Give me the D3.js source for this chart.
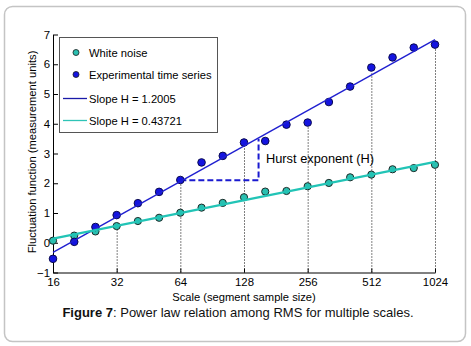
<!DOCTYPE html>
<html>
<head>
<meta charset="utf-8">
<script src="https://cdn.jsdelivr.net/npm/d3@7"></script>
<style>
  html, body { margin: 0; padding: 0; background: #fff; }
  svg { display: block; font-family: "Liberation Sans", Arial, sans-serif; }
  .axis path, .axis line { stroke: #000; stroke-width: 1; }
  .axis text { font-size: 11.4px; fill: #000; }
</style>
</head>
<body>
<svg id="chart" width="471" height="346"></svg>
<script>
// segment sample sizes (log2 spaced)
const scales = [16, 20.16, 25.4, 32, 40.32, 50.8, 64, 80.63, 101.6, 128, 161.3, 203.2, 256, 322.5, 406.4, 512, 645.1, 812.7, 1024];
const whiteNoise = [0.07, 0.24, 0.38, 0.56, 0.73, 0.84, 1.01, 1.18, 1.34, 1.53, 1.72, 1.74, 1.90, 2.01, 2.20, 2.29, 2.47, 2.51, 2.62];
const experimental = [-0.54, 0.03, 0.53, 0.93, 1.33, 1.71, 2.11, 2.70, 2.92, 3.37, 3.42, 3.97, 4.04, 4.73, 5.25, 5.89, 6.23, 6.56, 6.66];

// fitted lines (end points)
const fitExperimental = [[16, -0.32], [1024, 6.83]];
const fitWhiteNoise = [[16, 0.14], [1024, 2.72]];

// dotted guides at the octave ticks
const guideTops = [[32, 0.57], [64, 2.11], [128, 3.37], [256, 4.04], [512, 5.7], [1024, 6.66]];
// Hurst exponent triangle
const hurstPath = [[64, 2.1], [150, 2.1], [150, 3.5]];

const xTicks = [16, 32, 64, 128, 256, 512, 1024];
const yTicks = [-1, 0, 1, 2, 3, 4, 5, 6, 7];

const legendItems = [
  { label: "White noise", type: "dot", color: "#2abfb0" },
  { label: "Experimental time series", type: "dot", color: "#1414e0" },
  { label: "Slope H = 1.2005", type: "line", color: "#1a1aa8" },
  { label: "Slope H = 0.43721", type: "line", color: "#2ec4b6" }
];

const svg = d3.select("#chart");

// outer rounded frame
svg.append("rect")
  .attr("x", 4.5).attr("y", 6.5)
  .attr("width", 461).attr("height", 335)
  .attr("rx", 8).attr("ry", 8)
  .attr("fill", "#fff")
  .attr("stroke", "#c4c4c4")
  .attr("stroke-width", 1.5);

const x = d3.scaleLog().base(2).domain([16, 1024]).range([53, 435]);
const y = d3.scaleLinear().domain([-1, 7]).range([272.5, 34.5]);

// dotted guides
svg.selectAll("line.guide")
  .data(guideTops)
  .enter()
  .append("line")
  .attr("class", "guide")
  .attr("x1", d => x(d[0]) + 0.5)
  .attr("x2", d => x(d[0]) + 0.5)
  .attr("y1", y(-1))
  .attr("y2", d => y(d[1]))
  .attr("stroke", "#000")
  .attr("stroke-width", 1)
  .attr("stroke-dasharray", "1,2");

// axes
svg.append("g")
  .attr("class", "axis")
  .attr("transform", `translate(0,${y(-1)})`)
  .call(d3.axisBottom(x).tickValues(xTicks).tickFormat(d3.format("d"))
    .tickSizeInner(-4).tickSizeOuter(0).tickPadding(5));

svg.append("g")
  .attr("class", "axis")
  .attr("transform", `translate(${x(16)},0)`)
  .call(d3.axisLeft(y).tickValues(yTicks).tickFormat(d3.format("d"))
    .tickSizeInner(-5).tickSizeOuter(0).tickPadding(3));

// axis titles
svg.append("text")
  .attr("x", 244)
  .attr("y", 300.5)
  .attr("text-anchor", "middle")
  .style("font-size", "11.2px")
  .text("Scale (segment sample size)");

svg.append("text")
  .attr("transform", "translate(36,152) rotate(-90)")
  .attr("text-anchor", "middle")
  .style("font-size", "11.2px")
  .text("Fluctuation function (measurement units)");

// Hurst exponent triangle
svg.append("path")
  .datum(hurstPath)
  .attr("d", d3.line().x(d => x(d[0])).y(d => y(d[1])))
  .attr("fill", "none")
  .attr("stroke", "#1a1ad0")
  .attr("stroke-width", 2)
  .attr("stroke-dasharray", "6,3");

svg.append("text")
  .attr("x", 266)
  .attr("y", 162.5)
  .style("font-size", "12.8px")
  .text("Hurst exponent (H)");

// points
const pts = (vals) => vals.map((v, i) => ({ s: scales[i], v }));

svg.selectAll("circle.noise")
  .data(pts(whiteNoise))
  .enter()
  .append("circle")
  .attr("class", "noise")
  .attr("cx", d => x(d.s))
  .attr("cy", d => y(d.v))
  .attr("r", 3.6)
  .attr("fill", "#2abfb0")
  .attr("stroke", "#1c2a28")
  .attr("stroke-width", 1);

svg.selectAll("circle.exp")
  .data(pts(experimental))
  .enter()
  .append("circle")
  .attr("class", "exp")
  .attr("cx", d => x(d.s))
  .attr("cy", d => y(d.v))
  .attr("r", 3.8)
  .attr("fill", "#1414e0")
  .attr("stroke", "#0a0a50")
  .attr("stroke-width", 1);

// fit lines
const fitLine = d3.line().x(d => x(d[0])).y(d => y(d[1]));

svg.append("path")
  .datum(fitExperimental)
  .attr("d", fitLine)
  .attr("fill", "none")
  .attr("stroke", "#2020d0")
  .attr("stroke-width", 1.4);

svg.append("path")
  .datum(fitWhiteNoise)
  .attr("d", fitLine)
  .attr("fill", "none")
  .attr("stroke", "#22c4b6")
  .attr("stroke-width", 2.2);

// legend
const legend = svg.append("g").attr("transform", "translate(59.5,37.5)");
legend.append("rect")
  .attr("width", 158)
  .attr("height", 95)
  .attr("fill", "#fff")
  .attr("stroke", "#555")
  .attr("stroke-width", 1);

const rowY = [15, 37, 61, 83];
legendItems.forEach((item, i) => {
  const ry = rowY[i];
  if (item.type === "dot") {
    legend.append("circle")
      .attr("cx", 16.5).attr("cy", ry)
      .attr("r", 3)
      .attr("fill", item.color)
      .attr("stroke", "#1a1a1a")
      .attr("stroke-width", 0.8);
  } else {
    legend.append("line")
      .attr("x1", 3.5).attr("x2", 27.5)
      .attr("y1", ry).attr("y2", ry)
      .attr("stroke", item.color)
      .attr("stroke-width", 1.3);
  }
  legend.append("text")
    .attr("x", 29.5)
    .attr("y", ry)
    .attr("dy", "0.36em")
    .style("font-size", "11.2px")
    .text(item.label);
});

// caption
const cap = svg.append("text")
  .attr("x", 238)
  .attr("y", 317)
  .attr("text-anchor", "middle")
  .style("font-size", "13px")
  .attr("fill", "#111");
cap.append("tspan").style("font-weight", "bold").text("Figure 7");
cap.append("tspan").text(": Power law relation among RMS for multiple scales.");
</script>
</body>
</html>
